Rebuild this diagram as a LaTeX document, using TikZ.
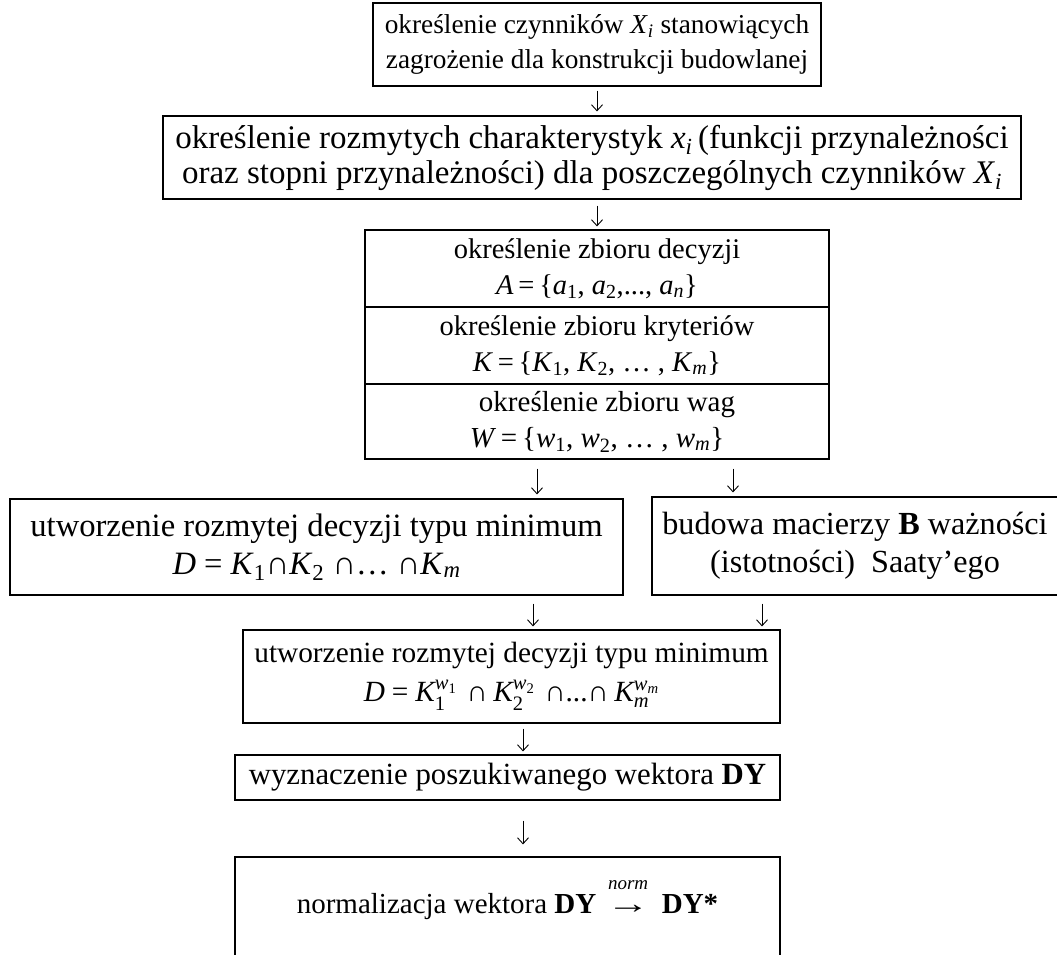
\documentclass[tikz,border=0pt]{standalone}
\usepackage{amsmath}
\usepackage{graphicx}
\usepackage{fontspec}
\setmainfont{Liberation Serif}
\usetikzlibrary{arrows.meta}
\newcommand\vi[1]{\textit{#1}}
\newcommand\sbs[1]{\textsubscript{#1}}
\newcommand\mvi[1]{\text{\itshape #1}}
\newcommand\mvu[1]{\text{#1}}
\begin{document}
\begin{tikzpicture}[x=1pt,y=-1pt,
  box/.style={draw, line width=1.2pt, inner sep=0pt, align=center},
  arr/.style={line width=0.9pt, -{Straight Barb[length=6pt,width=11pt]}}]
\useasboundingbox (0,0) rectangle (1057,955);
\clip (0,0) rectangle (1057,955);
\fill[white] (0,0) rectangle (1057,955);
% boxes
\node[box, minimum width=448pt, minimum height=83pt, font=\fontsize{27.3}{35}\selectfont] (b1) at (597,44.5)
  {określenie czynników \vi{X}\sbs{\vi{i}} stanowiących\\zagrożenie dla konstrukcji budowlanej};
\node[box, minimum width=858pt, minimum height=83pt, font=\fontsize{33}{35}\selectfont] (b2) at (592,157.5)
  {określenie rozmytych charakterystyk \vi{x}\sbs{\vi{i}}\,(funkcji przynależności\\oraz stopni przynależności) dla poszczególnych czynników \vi{X}\sbs{\vi{i}}};
\node[box, minimum width=464pt, minimum height=77pt, font=\fontsize{28.5}{36}\selectfont] (s1) at (597,268.5)
  {określenie zbioru decyzji\\\vi{A}\,=\,\{\vi{a}\sbs{1}, \vi{a}\sbs{2},..., \vi{a}\sbs{\vi{n}}\}};
\node[box, minimum width=464pt, minimum height=77pt, font=\fontsize{28.5}{36}\selectfont] (s2) at (597,345.5)
  {określenie zbioru kryteriów\\\vi{K}\,=\,\{\vi{K}\sbs{1}, \vi{K}\sbs{2}, … , \vi{K}\sbs{\vi{m}}\}};
\node[box, minimum width=464pt, minimum height=75pt, font=\fontsize{29}{36}\selectfont] (s3) at (597,421.5)
  {\hspace*{20pt}określenie zbioru wag\\\vi{W}\,=\,\{\vi{w}\sbs{1}, \vi{w}\sbs{2}, … , \vi{w}\sbs{\vi{m}}\}};
\node[box, minimum width=613pt, minimum height=96pt, font=\fontsize{32.6}{38}\selectfont] (b4) at (316.5,547)
  {utworzenie rozmytej decyzji typu minimum\\\vi{D} = \vi{K}\sbs{1}∩\vi{K}\sbs{2} ∩… ∩\vi{K}\sbs{\vi{m}}};
\node[box, minimum width=406pt, minimum height=98pt, font=\fontsize{32.2}{38}\selectfont] (b5) at (855,546)
  {budowa macierzy \textbf{B} ważności\\(istotności)\ \ Saaty’ego};
\node[box, minimum width=537pt, minimum height=93pt, font=\fontsize{29.3}{36}\selectfont] (b6) at (511.5,676.5)
  {utworzenie rozmytej decyzji typu minimum\\[3pt]
   $\mvi{D} \mathrel{\mvu{=}} \mvi{K}^{\mvi{w}_{\mvu{1}}}_{\mvu{1}}\, \mathbin{\mvu{∩}} \mvi{K}^{\mvi{w}_{\mvu{2}}}_{\mvu{2}}\, \mathbin{\mvu{∩...∩}} \mvi{K}^{\mvi{w}_{\mvi{m}}}_{\mvi{m}}$};
\node[box, minimum width=545pt, minimum height=45pt, font=\fontsize{30.8}{36}\selectfont] (b7) at (507.5,777.5)
  {wyznaczenie poszukiwanego wektora \textbf{DY}};
\node[box, minimum width=545pt, text height=56pt, text depth=58pt, font=\fontsize{29}{36}\selectfont] (b8) at (507.5,914)
  {normalizacja wektora \textbf{DY}\hspace{10pt}$\overset{\raisebox{10pt}{\fontsize{19}{19}\selectfont\itshape norm}}{\text{\scalebox{1.5}[1]{→}}}$\hspace{12pt}\textbf{DY*}};
% arrow positions
\coordinate (xa) at (597,0);
\coordinate (xb) at (537,0);
\coordinate (xc) at (733,0);
\coordinate (xd) at (533,0);
\coordinate (xe) at (762,0);
\coordinate (xf) at (523,0);
% connectors
\draw[arr, shorten <=4pt, shorten >=4pt] (b1.south -| xa) -- (b2.north -| xa);
\draw[arr, shorten <=6pt, shorten >=3pt] (b2.south -| xa) -- (s1.north -| xa);
\draw[arr, shorten <=9pt, shorten >=4pt] (s3.south -| xb) -- (b4.north -| xb);
\draw[arr, shorten <=9pt, shorten >=4pt] (s3.south -| xc) -- (b5.north -| xc);
\draw[arr, shorten <=8pt, shorten >=3pt] (b4.south -| xd) -- (b6.north -| xd);
\draw[arr, shorten <=8pt, shorten >=3pt] (b5.south -| xe) -- (b6.north -| xe);
\draw[arr, shorten <=5pt, shorten >=3pt] (b6.south -| xf) -- (b7.north -| xf);
\draw[arr, shorten <=20pt, shorten >=12pt] (b7.south -| xf) -- (b8.north -| xf);
\end{tikzpicture}
\end{document}
